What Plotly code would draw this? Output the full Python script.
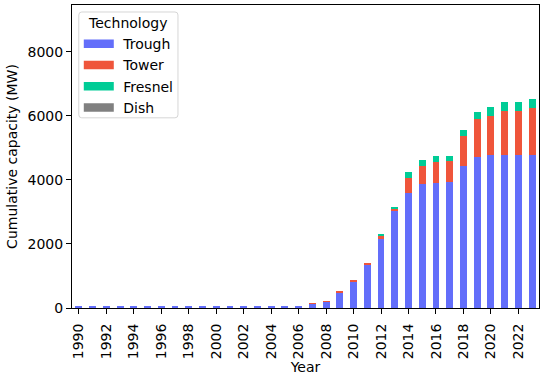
import plotly.graph_objects as go

years = list(range(1990, 2024))
trough = [70] * 17 + [140, 190, 492, 835, 1333, 2165, 3015, 3590, 3856, 3909, 3931,
                      4439, 4697, 4782, 4782, 4782, 4782]
tower = [0] * 17 + [15, 25, 50, 50, 85, 85, 75, 475, 583, 633, 642,
                    934, 1206, 1224, 1370, 1370, 1473]
fresnel = [0] * 17 + [0, 0, 0, 0, 0, 40, 50, 165, 165, 187, 168,
                      187, 209, 261, 271, 271, 271]
dish = [0] * 34

series = [("Trough", trough, "#636EFA"), ("Tower", tower, "#EF553B"),
          ("Fresnel", fresnel, "#00CC96"), ("Dish", dish, "#808080")]

FONT = "DejaVu Sans"
W, H = 550, 378
ML, MR, MT, MB = 71.5, 10.5, 5, 69.5
PW, PH = W - ML - MR, H - MT - MB


def px_x(x):
    return (x - ML) / PW


def px_y(y):
    return (H - MB - y) / PH


fig = go.Figure()
for name, vals, col in series:
    fig.add_trace(go.Bar(x=years, y=vals, name=name, marker_color=col,
                         marker_line_width=0, width=0.5, showlegend=False))
for name, vals, col in series:
    fig.add_trace(go.Scatter(x=[None], y=[None], mode="lines", name="\u00a0" + name,
                             line=dict(color=col, width=8.5), showlegend=True))

# legend frame (rounded rectangle)
x0, x1, y0, y1, r = 78.3, 177.7, 12, 118, 3
path = (f"M {px_x(x0 + r)},{px_y(y0)} L {px_x(x1 - r)},{px_y(y0)} "
        f"Q {px_x(x1)},{px_y(y0)} {px_x(x1)},{px_y(y0 + r)} "
        f"L {px_x(x1)},{px_y(y1 - r)} Q {px_x(x1)},{px_y(y1)} {px_x(x1 - r)},{px_y(y1)} "
        f"L {px_x(x0 + r)},{px_y(y1)} Q {px_x(x0)},{px_y(y1)} {px_x(x0)},{px_y(y1 - r)} "
        f"L {px_x(x0)},{px_y(y0 + r)} Q {px_x(x0)},{px_y(y0)} {px_x(x0 + r)},{px_y(y0)} Z")
fig.add_shape(type="path", path=path, xref="paper", yref="paper",
              fillcolor="rgba(255,255,255,0.8)", line=dict(color="#d6d6d6", width=1),
              layer="above")

fig.update_layout(
    barmode="stack",
    width=W, height=H,
    margin=dict(l=ML, r=MR, t=MT, b=MB),
    paper_bgcolor="white", plot_bgcolor="white",
    font=dict(family=FONT, size=14, color="black"),
    legend=dict(
        title=dict(text="Technology", side="top center", font=dict(size=14)),
        x=px_x(78.3), y=px_y(10), xanchor="left", yanchor="top",
        bgcolor="rgba(0,0,0,0)", borderwidth=0,
        font=dict(size=14), tracegroupgap=0, traceorder="normal",
    ),
    xaxis=dict(
        range=[1989.5, 2023.5], tickvals=years[::2], ticktext=[str(y) for y in years[::2]],
        tickangle=-90, ticks="outside", ticklen=5, tickwidth=1, tickcolor="black",
        showline=True, mirror=True, linecolor="black", linewidth=1,
        showgrid=False, zeroline=False, automargin=False, ticklabelstandoff=4,
        title=dict(text="Year", font=dict(size=14), standoff=2),
    ),
    yaxis=dict(
        range=[0, 9455], tickvals=[0, 2000, 4000, 6000, 8000], tickformat="d",
        ticks="outside", ticklen=5, tickwidth=1, tickcolor="black",
        showline=True, mirror=True, linecolor="black", linewidth=1,
        showgrid=False, zeroline=False, automargin=False,
        title=dict(text="Cumulative capacity (MW)", font=dict(size=14), standoff=6),
    ),
)
fig.write_html("out.html", config={"displayModeBar": False},
               post_script="document.body.style.margin='0';document.body.style.padding='0';")
